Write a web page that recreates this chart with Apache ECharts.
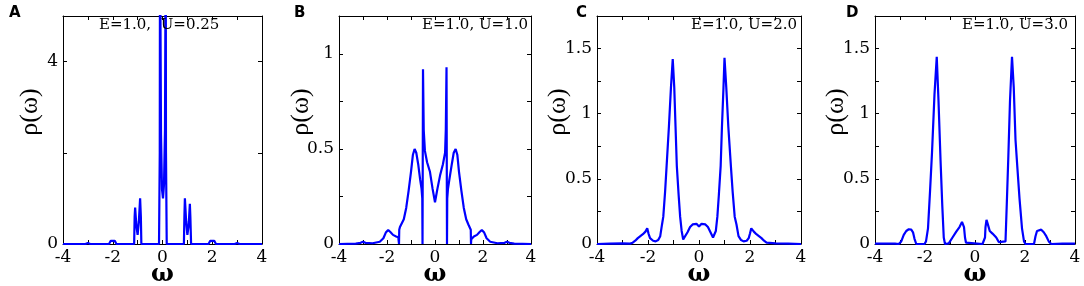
<!DOCTYPE html>
<html>
<head>
    <meta charset="utf-8">
    <style type="text/css">
        html,body { margin: 0px; padding: 0px; background: #fff; }
        #main { width: 1084px; height: 286px; }
    </style>
    <script src="https://cdn.jsdelivr.net/npm/echarts@6/dist/echarts.min.js"></script>
</head>
<body>
    <div id="main"></div>
    <script type="text/javascript">
        // panel A: E=1.0, U=0.25
        var wA   = [-4, -3.1, -3.0, -2.9, -2.15, -2.08, -2.0, -1.92, -1.85, -1.14, -1.12, -1.1, -1.05, -1.0, -0.95, -0.9, -0.87, -0.85,
                    -0.14, -0.11, -0.1, -0.06, -0.02, 0.02, 0.06, 0.1, 0.13, 0.14, 0.17,
                    0.86, 0.88, 0.9, 0.95, 1.0, 1.05, 1.1, 1.12, 1.15, 1.85, 1.92, 2.0, 2.08, 2.15, 2.9, 3.0, 3.1, 4];
        var rhoA = [0, 0, 0.02, 0, 0, 0.07, 0.1, 0.07, 0, 0, 0.6, 0.8, 0.4, 0.2, 0.5, 1.0, 0.6, 0,
                    0, 2.0, 7, 2.4, 1.2, 1.0, 1.3, 2.5, 7, 2.0, 0,
                    0, 0.6, 1.0, 0.5, 0.2, 0.4, 0.88, 0.6, 0, 0, 0.07, 0.1, 0.07, 0, 0, 0.02, 0, 0];

        // panel B: E=1.0, U=1.0
        var wB   = [-4, -3.3, -3.1, -3.0, -2.9, -2.6, -2.3, -2.15, -2.05, -1.95, -1.85, -1.75, -1.62, -1.53, -1.51, -1.5, -1.49, -1.46,
                    -1.4, -1.3, -1.2, -1.1, -1.0, -0.92, -0.85, -0.78, -0.7, -0.62, -0.56, -0.53, -0.52, -0.5, -0.47, -0.42,
                    -0.33, -0.21, -0.1, 0, 0.1, 0.21, 0.33, 0.42, 0.45, 0.48, 0.5, 0.51, 0.54, 0.6, 0.7, 0.78, 0.86, 0.93,
                    1.0, 1.1, 1.2, 1.3, 1.4, 1.46, 1.49, 1.5, 1.51, 1.53, 1.62, 1.75, 1.85, 1.95, 2.05, 2.15, 2.3, 2.6,
                    2.9, 3.0, 3.1, 3.3, 4];
        var rhoB = [0, 0.002, 0.006, 0.012, 0.006, 0.004, 0.012, 0.03, 0.06, 0.074, 0.062, 0.048, 0.04, 0.035, 0.025, 0, 0.075, 0.09,
                    0.1, 0.13, 0.19, 0.28, 0.38, 0.47, 0.5, 0.48, 0.42, 0.34, 0.29, 0.24, 0, 0.92, 0.6, 0.49,
                    0.43, 0.38, 0.29, 0.22, 0.29, 0.36, 0.42, 0.48, 0.6, 0.93, 0, 0.24, 0.29, 0.34, 0.42, 0.48, 0.5, 0.47,
                    0.38, 0.28, 0.19, 0.13, 0.1, 0.09, 0.075, 0, 0.025, 0.035, 0.04, 0.048, 0.062, 0.074, 0.06, 0.03, 0.012, 0.004,
                    0.006, 0.012, 0.006, 0.002, 0];

        // panel C: E=1.0, U=2.0
        var wC   = [-4, -3.5, -3.0, -2.7, -2.6, -2.5, -2.4, -2.3, -2.2, -2.1, -2.03, -1.98, -1.92, -1.8, -1.7, -1.6, -1.52, -1.45,
                    -1.4, -1.33, -1.27, -1.18, -1.1, -1.03, -0.97, -0.92, -0.87, -0.8, -0.74, -0.68, -0.62, -0.55, -0.45, -0.35,
                    -0.25, -0.1, -0.03, 0, 0.03, 0.1, 0.25, 0.35, 0.45, 0.55, 0.6, 0.66, 0.72, 0.78, 0.85, 0.9, 0.96, 1.0,
                    1.07, 1.15, 1.25, 1.32, 1.4, 1.47, 1.55, 1.65, 1.75, 1.87, 1.95, 2.0, 2.05, 2.15, 2.25, 2.35, 2.45, 2.55,
                    2.65, 3.0, 3.5, 4];
        var rhoC = [0, 0.003, 0.005, 0.003, 0.01, 0.025, 0.045, 0.06, 0.075, 0.095, 0.12, 0.08, 0.045, 0.025, 0.02, 0.03, 0.06, 0.15,
                    0.21, 0.4, 0.6, 0.9, 1.2, 1.42, 1.2, 0.9, 0.6, 0.38, 0.21, 0.1, 0.035, 0.05, 0.09, 0.13,
                    0.15, 0.155, 0.15, 0.135, 0.15, 0.155, 0.15, 0.13, 0.09, 0.05, 0.035, 0.1, 0.21, 0.38, 0.6, 0.9, 1.2, 1.43,
                    1.2, 0.9, 0.6, 0.4, 0.21, 0.15, 0.06, 0.03, 0.02, 0.025, 0.045, 0.08, 0.12, 0.095, 0.075, 0.06, 0.045, 0.025,
                    0.01, 0.005, 0.003, 0];

        // panel D: E=1.0, U=3.0
        var wD   = [-4, -3.2, -3.05, -2.95, -2.85, -2.75, -2.65, -2.55, -2.48, -2.42, -2.35, -2.02, -1.96, -1.88, -1.8, -1.72, -1.62, -1.53,
                    -1.46, -1.38, -1.31, -1.25, -1.2, -1.05, -1.0, -0.9, -0.75, -0.62, -0.52, -0.48, -0.44, -0.4, -0.36, -0.3,
                    0.3, 0.36, 0.4, 0.42, 0.46, 0.5, 0.59, 0.7, 0.85, 0.95, 1.0, 1.22, 1.27, 1.33, 1.4, 1.48, 1.55, 1.62,
                    1.69, 1.78, 1.88, 1.96, 2.02, 2.36, 2.42, 2.48, 2.55, 2.65, 2.75, 2.85, 2.95, 3.05, 3.5, 4];
        var rhoD = [0.003, 0.003, 0, 0.02, 0.07, 0.1, 0.113, 0.11, 0.09, 0.04, 0, 0, 0.02, 0.12, 0.4, 0.7, 1.15, 1.436,
                    1.1, 0.65, 0.3, 0.05, 0, 0.005, 0.015, 0.05, 0.095, 0.13, 0.17, 0.185, 0.13, 0.05, 0.01, 0,
                    0, 0.01, 0.05, 0.13, 0.185, 0.16, 0.1, 0.08, 0.05, 0.015, 0, 0.02, 0.3, 0.65, 1.1, 1.436, 1.2, 0.8,
                    0.6, 0.35, 0.12, 0.02, 0, 0, 0.06, 0.1, 0.113, 0.11, 0.09, 0.06, 0.02, 0, 0.003, 0.003];

        var panelLetters = ['A', 'B', 'C', 'D'];
        var panelNotes = ['E=1.0,  U=0.25', 'E=1.0, U=1.0', 'E=1.0, U=2.0', 'E=1.0, U=3.0'];
        var yMax = [5, 1.2, 1.75, 1.75];
        var yStep = [2, 0.25, 0.25, 0.25];
        var yShown = [[0, 4], [0, 0.5, 1], [0, 0.5, 1, 1.5], [0, 0.5, 1, 1.5]];

        var serif = 'DejaVu Serif';
        var grids = [
            { left: 63, top: 16, width: 199, height: 228, outerBoundsMode: 'none', containLabel: false },
            { left: 339, top: 16, width: 192, height: 228, outerBoundsMode: 'none', containLabel: false },
            { left: 597, top: 16, width: 204, height: 228, outerBoundsMode: 'none', containLabel: false },
            { left: 875, top: 16, width: 200, height: 228, outerBoundsMode: 'none', containLabel: false }
        ];
        var nameGaps = [20, 25, 26, 26];
        var letterLeft = [9, 294, 576, 846];
        var notePos = [{ left: 99 }, { right: 556 }, { right: 287 }, { right: 16 }];

        function zip(xs, ys) {
            var out = [];
            for (var i = 0; i < xs.length; i++) out.push([xs[i], ys[i]]);
            return out;
        }

        var seriesData = [zip(wA, rhoA), zip(wB, rhoB), zip(wC, rhoC), zip(wD, rhoD)];

        var xAxes = [], yAxes = [], series = [], titles = [];
        var tickStyle = { inside: true, length: 4, lineStyle: { color: '#000', width: 1 } };
        var lineStyle = { onZero: false, lineStyle: { color: '#000', width: 1 } };

        for (var i = 0; i < 4; i++) {
            (function (i) {
                xAxes.push({
                    gridIndex: i, type: 'value', min: -4, max: 4, interval: 1,
                    axisLine: lineStyle, axisTick: tickStyle, splitLine: { show: false },
                    axisLabel: {
                        color: '#000', fontFamily: serif, fontSize: 17, margin: 5,
                        formatter: function (v) { return v % 2 === 0 ? String(v) : ''; }
                    },
                    name: 'ω', nameLocation: 'middle', nameGap: 19, nameMoveOverlap: false,
                    nameTextStyle: { color: '#000', fontFamily: serif, fontSize: 24, fontWeight: 'bold' }
                });
                xAxes.push({
                    gridIndex: i, type: 'value', min: -4, max: 4, interval: 1, position: 'top',
                    axisLine: lineStyle, axisTick: tickStyle, axisLabel: { show: false }, splitLine: { show: false }
                });
                yAxes.push({
                    gridIndex: i, type: 'value', min: 0, max: yMax[i], interval: yStep[i],
                    axisLine: lineStyle, axisTick: tickStyle, splitLine: { show: false },
                    axisLabel: {
                        color: '#000', fontFamily: serif, fontSize: 17, margin: 5,
                        showMaxLabel: false,
                        formatter: function (v) {
                            for (var k = 0; k < yShown[i].length; k++) {
                                if (Math.abs(yShown[i][k] - v) < 1e-6) return String(yShown[i][k]);
                            }
                            return '';
                        }
                    },
                    name: 'ρ(ω)', nameLocation: 'middle', nameRotate: 90, nameGap: nameGaps[i], nameMoveOverlap: false,
                    nameTextStyle: { color: '#000', fontFamily: 'Liberation Serif', fontSize: 26, padding: [0, 0, 0, 36] }
                });
                yAxes.push({
                    gridIndex: i, type: 'value', min: 0, max: yMax[i], interval: yStep[i], position: 'right',
                    axisLine: lineStyle, axisTick: tickStyle, axisLabel: { show: false }, splitLine: { show: false }
                });
                series.push({
                    type: 'line', xAxisIndex: i * 2, yAxisIndex: i * 2,
                    data: seriesData[i], showSymbol: false, clip: true,
                    lineStyle: { color: '#0000ff', width: 2.2 }
                });
                titles.push({
                    text: panelLetters[i], left: letterLeft[i], top: 6, padding: 0,
                    textStyle: { color: '#000', fontFamily: 'DejaVu Sans', fontWeight: 'bold', fontSize: 15 }
                });
                var note = {
                    text: panelNotes[i], top: 18, padding: 0,
                    textStyle: { color: '#000', fontFamily: serif, fontWeight: 'normal', fontSize: 15 }
                };
                for (var key in notePos[i]) note[key] = notePos[i][key];
                titles.push(note);
            })(i);
        }

        var chart = echarts.init(document.getElementById('main'));
        chart.setOption({
            animation: false,
            title: titles,
            grid: grids,
            xAxis: xAxes,
            yAxis: yAxes,
            series: series
        });
    </script>
</body>
</html>
